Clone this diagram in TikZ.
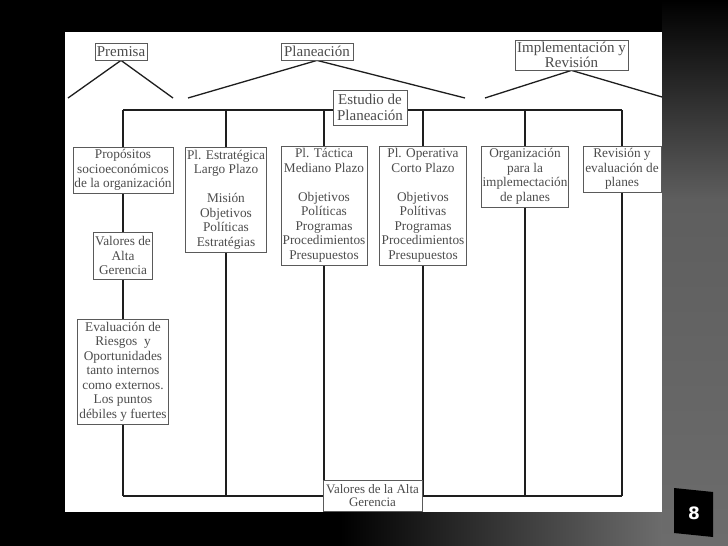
\documentclass[tikz,border=0pt]{standalone}
\usepackage{fontspec}
\setmainfont{Liberation Serif}
\newfontfamily\badgefont{DejaVu Sans}
\usetikzlibrary{calc}
\pgfdeclarelayer{back}
\pgfdeclarelayer{wires}
\pgfsetlayers{back,wires,main}
\definecolor{txt}{HTML}{4C4C4C}
\definecolor{brd}{HTML}{5A5A5A}
\definecolor{wirec}{HTML}{1E1E1E}
\definecolor{bggray}{HTML}{5E5E5E}
\definecolor{bggray2}{HTML}{6C6C6C}
\begin{document}
\begin{tikzpicture}[x=1pt,y=-1pt,
  bx/.style={draw=brd, line width=0.8pt, fill=white, text=txt, align=center,
    inner sep=0pt, font=\fontsize{13.3}{14.5}\selectfont},
  lbl/.style={bx, font=\fontsize{15}{15.5}\selectfont},
  wire/.style={draw=wirec, line width=1.7pt}]
\useasboundingbox (0,0) rectangle (728,546);
\begin{pgfonlayer}{back}
  \fill[black] (0,0) rectangle (728,546);
  \shade[top color=black, bottom color=bggray] (662,0) rectangle (728,200);
  \shade[top color=bggray, bottom color=bggray2] (662,200) rectangle (728,546);
  \shade[left color=black, right color=bggray2] (340,512) rectangle (662,546);
  \fill[white] (65,32) rectangle (662,512);
\end{pgfonlayer}

% top labels
\node[lbl, minimum width=52, minimum height=17] (premisa) at (121,51.5) {Premisa};
\node[lbl, minimum width=72, minimum height=17] (planeacion) at (317,51.5) {Planeación};
\node[lbl, minimum width=113, minimum height=30] (impl) at (571.5,55) {Implementación y\\Revisión};
\node[lbl, minimum width=74, minimum height=35] (estudio) at (370,107.5) {Estudio de\\Planeación};

% column boxes
\node[bx, minimum width=100, minimum height=46] (prop) at (123,170) {Propósitos\\socioeconómicos\\de la organización};
\node[bx, minimum width=81, minimum height=105] (estr) at (226,199.5) {Pl. Estratégica\\Largo Plazo\\[14.5pt]Misión\\Objetivos\\Políticas\\Estratégias};
\node[bx, minimum width=86, minimum height=119] (tact) at (324,205.5) {Pl. Táctica\\Mediano Plazo\\[14.5pt]Objetivos\\Políticas\\Programas\\Procedimientos\\Presupuestos};
\node[bx, minimum width=87, minimum height=119] (oper) at (423,205.5) {Pl. Operativa\\Corto Plazo\\[14.5pt]Objetivos\\Polítivas\\Programas\\Procedimientos\\Presupuestos};
\node[bx, minimum width=87, minimum height=61] (org) at (525,176.5) {Organización\\para la\\implemectación\\de planes};
\node[bx, minimum width=78, minimum height=46] (rev) at (622,169) {Revisión y\\evaluación de\\planes};
\node[bx, minimum width=59, minimum height=47] (valA) at (123,255.5) {Valores de\\Alta\\Gerencia};
\node[bx, minimum width=91, minimum height=105] (evalr) at (123,371.5) {Evaluación de\\Riesgos\ \ y\\Oportunidades\\tanto internos\\como externos.\\Los puntos\\débiles y fuertes};
\node[bx, minimum width=99, minimum height=31, font=\fontsize{13}{13}\selectfont] (valB) at (372.5,495.5) {Valores de la Alta\\Gerencia};

% page badge
\fill[black] (674,488) -- (713,492) -- (713,537) -- (674,533) -- cycle;
\node[text=white, inner sep=0pt,
  font=\badgefont\bfseries\fontsize{17}{17}\selectfont] (pg) at (694,513) {8};

% free ends and corners
\coordinate (pa) at (68,98);
\coordinate (pb) at (173,98);
\coordinate (pc) at (188,98);
\coordinate (pd) at (465,98);
\coordinate (pe) at (485,98);
\coordinate (pf) at (662,97);
\coordinate (tl) at (123,110);
\coordinate (tr) at (622,110);
\coordinate (bl) at (123,496);
\coordinate (br) at (622,496);

\begin{pgfonlayer}{wires}
  \draw[wire, line width=1.3pt] (pa) -- (premisa.south) -- (pb);
  \draw[wire, line width=1.3pt] (pc) -- (planeacion.south) -- (pd);
  \draw[wire, line width=1.3pt] (pe) -- (impl.south) -- (pf);
  \draw[wire] (tl) -- (tr);
  \draw[wire] (bl) -- (br);
  \draw[wire] (tl) -- (prop.north);
  \draw[wire] (estr.north |- tl) -- (estr.north);
  \draw[wire] (tact.north |- tl) -- (tact.north);
  \draw[wire] (oper.north |- tl) -- (oper.north);
  \draw[wire] (org.north |- tl) -- (org.north);
  \draw[wire] (tr) -- (rev.north);
  \draw[wire] (prop.south) -- (valA.north);
  \draw[wire] (valA.south) -- (evalr.north);
  \draw[wire] (evalr.south) -- (bl);
  \draw[wire] (estr.south) -- (estr.south |- bl);
  \draw[wire] (tact.south) -- (tact.south |- valB.north);
  \draw[wire] (oper.south) -- (oper.south |- bl);
  \draw[wire] (org.south) -- (org.south |- bl);
  \draw[wire] (rev.south) -- (br);
\end{pgfonlayer}
\end{tikzpicture}
\end{document}
